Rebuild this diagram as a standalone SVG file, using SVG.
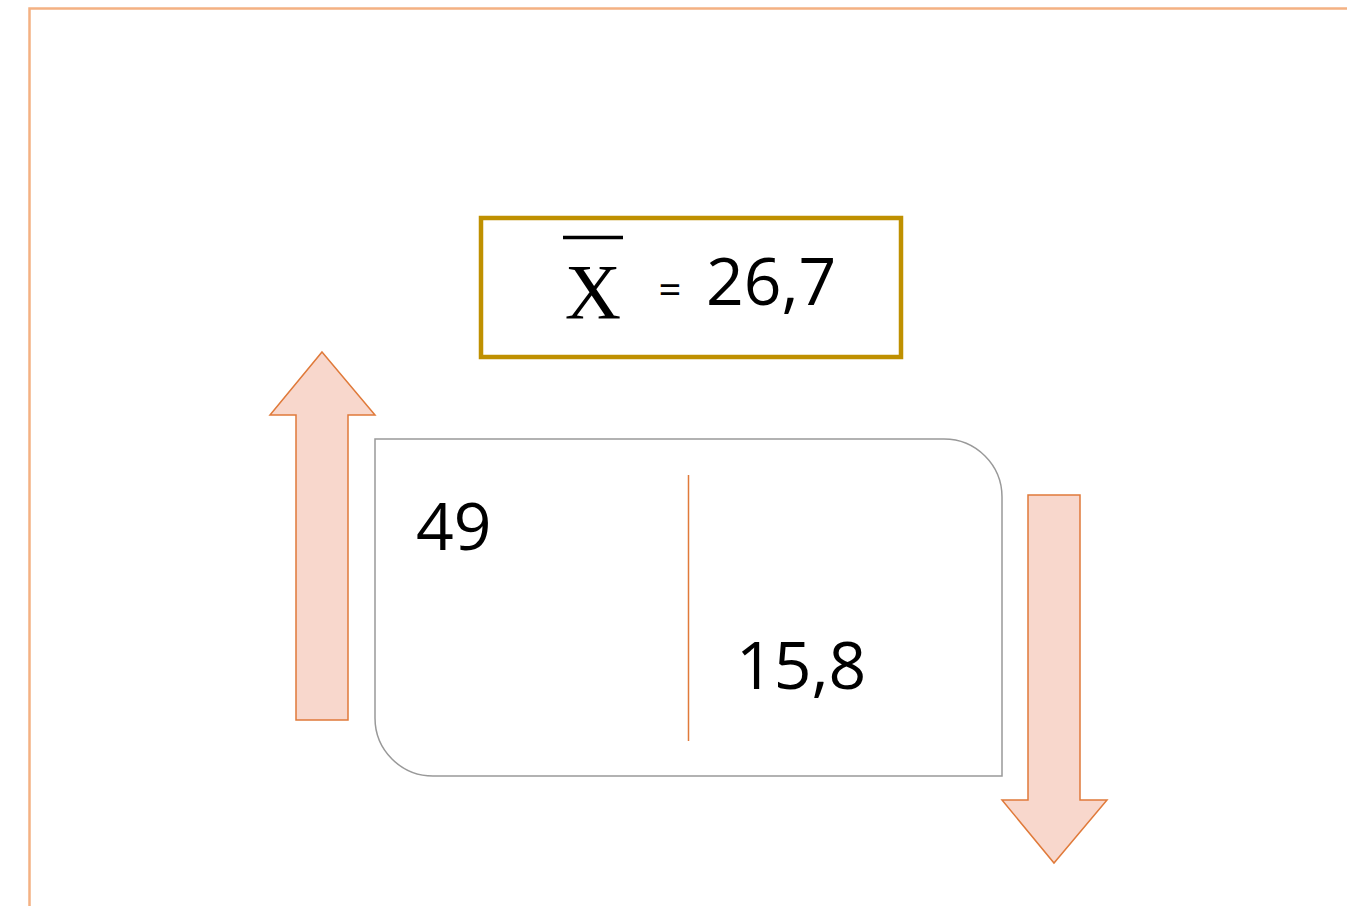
<svg xmlns="http://www.w3.org/2000/svg" width="1347" height="906" viewBox="0 0 1347 906">
<style>
.arrow{fill:#F8D7CC;stroke:#E07A3A;stroke-width:1.5;stroke-linejoin:miter}
.num{font-family:"Open Sans","Liberation Sans",sans-serif;fill:#000}
</style>
<rect width="1347" height="906" fill="#fff"/>
<g id="frame">
<path d="M29.5,906 V8.5 H1347" fill="none" stroke="#F4B183" stroke-width="2.5"/>
</g>
<g id="mean">
<rect x="481" y="218" width="420" height="139" fill="#fff" stroke="#BF9000" stroke-width="4.5"/>
<line x1="563" y1="237.5" x2="623" y2="237.5" stroke="#000" stroke-width="3.5"/>
<text x="593" y="318" text-anchor="middle" font-family="Liberation Serif,serif" font-size="78">X</text>
<text x="670" y="304" text-anchor="middle" class="num" font-size="40">=</text>
<text x="706" y="305" class="num" font-size="66">26,7</text>
</g>
<g id="up-arrow">
<polygon class="arrow" points="322,352 375,415 348,415 348,720 296,720 296,415 270,415"/>
</g>
<g id="down-arrow">
<polygon class="arrow" points="1028,495 1080,495 1080,800 1107,800 1054,863 1002,800 1028,800"/>
</g>
<g id="box">
<path d="M375,439 H944 A58,58 0 0 1 1002,497 V776 H433 A58,58 0 0 1 375,718 Z" fill="none" stroke="#999" stroke-width="1.5"/>
<line x1="688.5" y1="475" x2="688.5" y2="741" stroke="#E07A3A" stroke-width="1.5"/>
<text x="416" y="550" class="num" font-size="66">49</text>
<text x="736" y="689" class="num" font-size="66">15,8</text>
</g>
</svg>
